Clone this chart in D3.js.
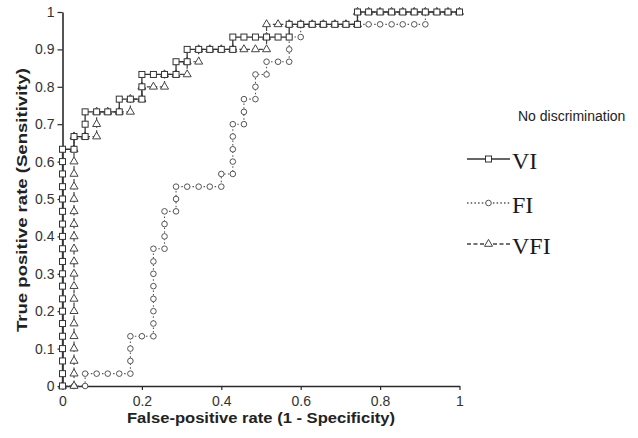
<!DOCTYPE html>
<html><head><meta charset="utf-8">
<script src="https://cdn.jsdelivr.net/npm/d3@7"></script>
<style>body{margin:0;background:#fff}svg{display:block}</style>
</head><body><svg id="c" width="638" height="438"></svg>
<script>
const xTickValues = [0, 0.2, 0.4, 0.6, 0.8, 1];
const xTickLabels = ["0", "0.2", "0.4", "0.6", "0.8", "1"];
const yTickValues = [0, 0.1, 0.2, 0.3, 0.4, 0.5, 0.6, 0.7, 0.8, 0.9, 1];
const yTickLabels = ["0", "0.1", "0.2", "0.3", "0.4", "0.5", "0.6", "0.7", "0.8", "0.9", "1"];
const seriesNames = ["VI", "FI", "VFI"];
const xTitle = "False-positive rate (1 - Specificity)";
const yTitle = "True positive rate (Sensitivity)";
const noDiscLabel = "No discrimination";

// [false-positive rate, true-positive rate]
const viPoints = [
  [0,0],[0,0.033],[0,0.067],[0,0.1],[0,0.133],[0,0.167],[0,0.2],[0,0.233],[0,0.267],[0,0.3],
  [0,0.333],[0,0.367],[0,0.4],[0,0.433],[0,0.467],[0,0.5],[0,0.533],[0,0.567],[0,0.6],[0,0.633],
  [0.029,0.633],[0.029,0.667],[0.057,0.667],[0.057,0.7],[0.057,0.733],[0.086,0.733],[0.114,0.733],
  [0.143,0.733],[0.143,0.767],[0.171,0.767],[0.2,0.767],[0.2,0.8],[0.2,0.833],[0.229,0.833],
  [0.257,0.833],[0.286,0.833],[0.286,0.867],[0.314,0.867],[0.314,0.9],[0.343,0.9],[0.371,0.9],
  [0.4,0.9],[0.429,0.9],[0.429,0.933],[0.457,0.933],[0.486,0.933],[0.514,0.933],[0.543,0.933],
  [0.571,0.933],[0.571,0.967],[0.6,0.967],[0.629,0.967],[0.657,0.967],[0.686,0.967],[0.714,0.967],
  [0.743,0.967],[0.743,1],[0.771,1],[0.8,1],[0.829,1],[0.857,1],[0.886,1],[0.914,1],[0.943,1],
  [0.971,1],[1,1]
];
const fiPoints = [
  [0,0],[0.029,0],[0.057,0],[0.057,0.033],[0.086,0.033],[0.114,0.033],[0.143,0.033],[0.171,0.033],
  [0.171,0.067],[0.171,0.1],[0.171,0.133],[0.2,0.133],[0.229,0.133],[0.229,0.167],[0.229,0.2],
  [0.229,0.233],[0.229,0.267],[0.229,0.3],[0.229,0.333],[0.229,0.367],[0.257,0.367],[0.257,0.4],
  [0.257,0.433],[0.257,0.467],[0.286,0.467],[0.286,0.5],[0.286,0.533],[0.314,0.533],[0.343,0.533],
  [0.371,0.533],[0.4,0.533],[0.4,0.567],[0.429,0.567],[0.429,0.6],[0.429,0.633],[0.429,0.667],
  [0.429,0.7],[0.457,0.7],[0.457,0.733],[0.457,0.767],[0.486,0.767],[0.486,0.8],[0.486,0.833],
  [0.514,0.833],[0.514,0.867],[0.543,0.867],[0.571,0.867],[0.571,0.9],[0.571,0.933],[0.6,0.933],
  [0.6,0.967],[0.629,0.967],[0.657,0.967],[0.686,0.967],[0.714,0.967],[0.743,0.967],[0.771,0.967],
  [0.8,0.967],[0.829,0.967],[0.857,0.967],[0.886,0.967],[0.914,0.967],[0.914,1],[0.943,1],
  [0.971,1],[1,1]
];
const vfiPoints = [
  [0,0],[0.029,0],[0.029,0.033],[0.029,0.067],[0.029,0.1],[0.029,0.133],[0.029,0.167],[0.029,0.2],
  [0.029,0.233],[0.029,0.267],[0.029,0.3],[0.029,0.333],[0.029,0.367],[0.029,0.4],[0.029,0.433],
  [0.029,0.467],[0.029,0.5],[0.029,0.533],[0.029,0.567],[0.029,0.6],[0.029,0.633],[0.029,0.667],
  [0.057,0.667],[0.086,0.667],[0.086,0.7],[0.086,0.733],[0.114,0.733],[0.143,0.733],[0.171,0.733],
  [0.171,0.767],[0.2,0.767],[0.2,0.8],[0.229,0.8],[0.257,0.8],[0.257,0.833],[0.286,0.833],
  [0.314,0.833],[0.314,0.867],[0.343,0.867],[0.343,0.9],[0.371,0.9],[0.4,0.9],[0.429,0.9],
  [0.457,0.9],[0.486,0.9],[0.514,0.9],[0.514,0.933],[0.514,0.967],[0.543,0.967],[0.571,0.967],
  [0.6,0.967],[0.629,0.967],[0.657,0.967],[0.686,0.967],[0.714,0.967],[0.743,0.967],[0.743,1],
  [0.771,1],[0.8,1],[0.829,1],[0.857,1],[0.886,1],[0.914,1],[0.943,1],[0.971,1],[1,1]
];

const svg = d3.select("#c");
const x = d3.scaleLinear().domain([0, 1]).range([62.5, 459.5]);
const y = d3.scaleLinear().domain([0, 1]).range([386, 12]);
const ink = "#2a2a2a";
const sans = "Liberation Sans, Arial, sans-serif";

// axes
const xAxis = d3.axisBottom(x).tickValues(xTickValues)
  .tickFormat((d, i) => xTickLabels[i]).tickSizeOuter(0).tickSizeInner(4).tickPadding(6);
const yAxis = d3.axisLeft(y).tickValues(yTickValues)
  .tickFormat((d, i) => yTickLabels[i]).tickSizeOuter(0).tickSizeInner(5).tickPadding(3);

const gx = svg.append("g").attr("transform", `translate(0,${y(0)})`).call(xAxis);
const gy = svg.append("g").attr("transform", `translate(${x(0)},0)`).call(yAxis);
[gx, gy].forEach(g => {
  g.select(".domain").attr("stroke", ink).attr("stroke-width", 1.6);
  g.selectAll(".tick line").attr("stroke", ink).attr("stroke-width", 1.2);
  g.selectAll(".tick text").attr("fill", "#333")
    .style("font-family", sans).style("font-size", "14px");
});

svg.append("text").attr("x", 261).attr("y", 423).attr("text-anchor", "middle")
  .attr("textLength", 268).attr("lengthAdjust", "spacingAndGlyphs")
  .style("font-family", sans).style("font-size", "14px")
  .style("font-weight", "bold").attr("fill", "#222").text(xTitle);
svg.append("text").attr("transform", "translate(27,200) rotate(-90)").attr("text-anchor", "middle")
  .attr("textLength", 264).attr("lengthAdjust", "spacingAndGlyphs")
  .style("font-family", sans).style("font-size", "15px")
  .style("font-weight", "bold").attr("fill", "#222").text(yTitle);

const line = d3.line().x(d => x(d[0])).y(d => y(d[1]));

const series = [
  { name: seriesNames[1], pts: fiPoints, dash: "1.5,2.2", width: 1.1, color: "#555", marker: "circle" },
  { name: seriesNames[2], pts: vfiPoints, dash: "4,2.5", width: 1.2, color: "#444", marker: "triangle" },
  { name: seriesNames[0], pts: viPoints, dash: null, width: 1.3, color: "#333", marker: "square" }
];

function drawMarker(g, type, cx, cy, color) {
  if (type === "square") {
    g.append("rect").attr("x", cx - 3).attr("y", cy - 3).attr("width", 6).attr("height", 6)
      .attr("fill", "#fff").attr("stroke", color).attr("stroke-width", 1);
  } else if (type === "circle") {
    g.append("circle").attr("cx", cx).attr("cy", cy).attr("r", 2.8)
      .attr("fill", "#fff").attr("stroke", color).attr("stroke-width", 1);
  } else {
    g.append("path").attr("d", d3.symbol(d3.symbolTriangle, 28)())
      .attr("transform", `translate(${cx},${cy})`)
      .attr("fill", "#fff").attr("stroke", color).attr("stroke-width", 1);
  }
}

series.forEach(s => {
  const g = svg.append("g");
  g.append("path").datum(s.pts).attr("d", line).attr("fill", "none")
    .attr("stroke", s.color).attr("stroke-width", s.width)
    .attr("stroke-dasharray", s.dash);
  s.pts.forEach(p => drawMarker(g, s.marker, x(p[0]), y(p[1]), s.color));
});

// legend
svg.append("text").attr("x", 518).attr("y", 121).attr("fill", "#222")
  .style("font-family", sans).style("font-size", "14px")
  .text(noDiscLabel);

const legendItems = [
  { name: seriesNames[0], dash: null, marker: "square", cy: 159, color: "#333" },
  { name: seriesNames[1], dash: "1.5,2.2", marker: "circle", cy: 203, color: "#555" },
  { name: seriesNames[2], dash: "4,2.5", marker: "triangle", cy: 244, color: "#444" }
];
legendItems.forEach(it => {
  const g = svg.append("g");
  g.append("line").attr("x1", 467).attr("x2", 510).attr("y1", it.cy).attr("y2", it.cy)
    .attr("stroke", it.color).attr("stroke-width", 1.3).attr("stroke-dasharray", it.dash);
  drawMarker(g, it.marker, 488.5, it.cy, it.color);
  g.append("text").attr("x", 512).attr("y", it.cy + 10).attr("fill", "#1a1a1a")
    .style("font-family", "Liberation Serif, Times New Roman, serif").style("font-size", "24px")
    .text(it.name);
});
</script>
</body></html>
